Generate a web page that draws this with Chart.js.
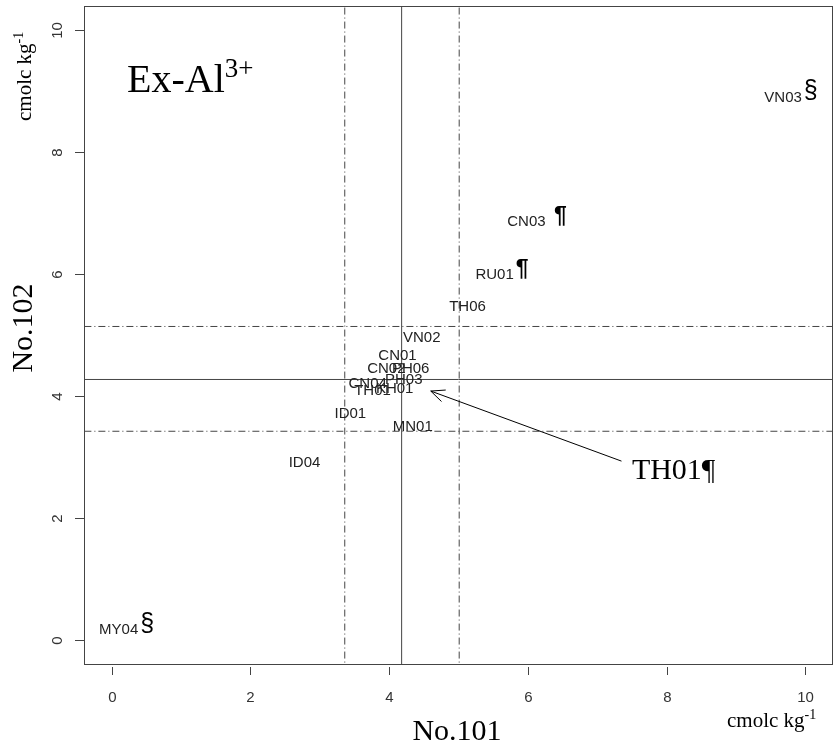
<!DOCTYPE html>
<html>
<head>
<meta charset="utf-8">
<script src="https://cdn.jsdelivr.net/npm/chart.js@4.4.0/dist/chart.umd.min.js"></script>
<style>
html, body { margin: 0; padding: 0; background: #fff; }
#wrap { width: 835px; height: 751px; }
</style>
</head>
<body>
<div id="wrap"><canvas id="chart"></canvas></div>
<script>
// site codes and their values on the two axes
const sites = ['VN03', 'CN03', 'RU01', 'TH06', 'VN02', 'CN01', 'CN02', 'PH06', 'PH03', 'CN04', 'TH01', 'KH01', 'ID01', 'MN01', 'ID04', 'MY04'];
const no101 = [9.68, 5.98, 5.52, 5.13, 4.47, 4.12, 3.96, 4.31, 4.21, 3.69, 3.76, 4.08, 3.44, 4.34, 2.78, 0.10];
const no102 = [8.90, 6.86, 5.99, 5.47, 4.96, 4.65, 4.45, 4.44, 4.26, 4.19, 4.08, 4.12, 3.70, 3.49, 2.90, 0.16];
const marks = ['§', ' ¶', '¶', '', '', '', '', '', '', '', '', '', '', '', '', '§'];

const xTicks = [0, 2, 4, 6, 8, 10];
const yTicks = [0, 2, 4, 6, 8, 10];

// reference lines: solid = centre, dotdash = limits
const xCentre = 4.18;
const xLimits = [3.36, 5.01];
const yCentre = 4.27;
const yLimits = [3.42, 5.14];

// arrow pointing at TH01
const arrowFrom = { x: 7.35, y: 2.93 };
const arrowTo = { x: 4.60, y: 4.08 };
const calloutText = 'TH01¶';
const calloutAt = { x: 7.50, y: 2.64 };

const lineColor = '#444';
const dotDash = [7, 3, 1, 3];

function vLine(v, dash) {
    return {
        type: 'line',
        data: [{ x: v, y: -1 }, { x: v, y: 11 }],
        borderColor: lineColor,
        borderWidth: 1,
        borderDash: dash,
        pointRadius: 0,
        fill: false
    };
}

function hLine(v, dash) {
    return {
        type: 'line',
        data: [{ x: -1, y: v }, { x: 11, y: v }],
        borderColor: lineColor,
        borderWidth: 1,
        borderDash: dash,
        pointRadius: 0,
        fill: false
    };
}

// draws text with a superscript part, left aligned at baseline
function supText(ctx, x, y, base, sup, size) {
    ctx.font = size + 'px "Liberation Serif", "Times New Roman", serif';
    ctx.textAlign = 'left';
    ctx.textBaseline = 'alphabetic';
    ctx.fillText(base, x, y);
    let w = ctx.measureText(base).width;
    ctx.font = Math.round(size * 0.68) + 'px "Liberation Serif", "Times New Roman", serif';
    ctx.fillText(sup, x + w, y - size * 0.38);
    return w + ctx.measureText(sup).width;
}

const drawExtras = {
    id: 'drawExtras',
    afterDraw(chart) {
        const ctx = chart.ctx;
        const area = chart.chartArea;
        const xs = chart.scales.x;
        const ys = chart.scales.y;
        ctx.save();

        // box
        ctx.strokeStyle = '#444';
        ctx.lineWidth = 1;
        ctx.strokeRect(Math.round(area.left) + 0.5, Math.round(area.top) + 0.5,
            Math.round(area.right - area.left) - 1, Math.round(area.bottom - area.top));

        // x ticks
        ctx.fillStyle = '#333';
        ctx.font = '15px "Liberation Sans Narrow", "Liberation Sans", Arial, sans-serif';
        ctx.textAlign = 'center';
        ctx.textBaseline = 'middle';
        xs.ticks.forEach(t => {
            const px = Math.round(xs.getPixelForValue(t.value)) + 0.5;
            ctx.beginPath();
            ctx.moveTo(px, area.bottom + 3);
            ctx.lineTo(px, area.bottom + 11);
            ctx.stroke();
            ctx.fillText(String(t.value), px, area.bottom + 34);
        });

        // y ticks (labels rotated like base R)
        ys.ticks.forEach(t => {
            const py = Math.round(ys.getPixelForValue(t.value)) + 0.5;
            ctx.beginPath();
            ctx.moveTo(area.left - 9, py);
            ctx.lineTo(area.left, py);
            ctx.stroke();
            ctx.save();
            ctx.translate(area.left - 26, py);
            ctx.rotate(-Math.PI / 2);
            ctx.fillText(String(t.value), 0, 0);
            ctx.restore();
        });

        // site labels
        ctx.fillStyle = '#222';
        sites.forEach((s, i) => {
            const px = xs.getPixelForValue(no101[i]);
            const py = ys.getPixelForValue(no102[i]);
            ctx.font = '15px "Liberation Sans", Arial, sans-serif';
            ctx.textAlign = 'center';
            ctx.textBaseline = 'middle';
            ctx.fillText(s, px, py);
            if (marks[i]) {
                const w = ctx.measureText(s).width;
                ctx.fillStyle = '#000';
                ctx.font = marks[i].trim() === '¶'
                    ? 'bold 23px "Liberation Sans", Arial, sans-serif'
                    : '25px "Liberation Sans", Arial, sans-serif';
                ctx.textAlign = 'left';
                ctx.textBaseline = 'alphabetic';
                ctx.fillText(marks[i], px + w / 2 + 2, py + 1);
                ctx.fillStyle = '#222';
            }
        });

        // arrow
        const ax0 = xs.getPixelForValue(arrowFrom.x), ay0 = ys.getPixelForValue(arrowFrom.y);
        const ax1 = xs.getPixelForValue(arrowTo.x), ay1 = ys.getPixelForValue(arrowTo.y);
        const ang = Math.atan2(ay1 - ay0, ax1 - ax0);
        ctx.strokeStyle = '#000';
        ctx.beginPath();
        ctx.moveTo(ax0, ay0);
        ctx.lineTo(ax1, ay1);
        ctx.moveTo(ax1 - 15 * Math.cos(ang - 0.42), ay1 - 15 * Math.sin(ang - 0.42));
        ctx.lineTo(ax1, ay1);
        ctx.lineTo(ax1 - 15 * Math.cos(ang + 0.42), ay1 - 15 * Math.sin(ang + 0.42));
        ctx.stroke();

        // callout text
        ctx.fillStyle = '#000';
        ctx.font = '30px "Liberation Serif", "Times New Roman", serif';
        ctx.textAlign = 'left';
        ctx.textBaseline = 'alphabetic';
        ctx.fillText(calloutText, xs.getPixelForValue(calloutAt.x), ys.getPixelForValue(calloutAt.y));

        // panel title
        supText(ctx, 127, 92, 'Ex-Al', '3+', 40);

        // axis titles
        ctx.font = '30px "Liberation Serif", "Times New Roman", serif';
        ctx.textAlign = 'center';
        ctx.textBaseline = 'alphabetic';
        ctx.fillText('No.101', 457, 740);
        ctx.save();
        ctx.translate(32, 328);
        ctx.rotate(-Math.PI / 2);
        ctx.fillText('No.102', 0, 0);
        ctx.restore();

        // units
        supText(ctx, 727, 727, 'cmolc kg', '-1', 21);
        ctx.save();
        ctx.translate(31, 121);
        ctx.rotate(-Math.PI / 2);
        supText(ctx, 0, 0, 'cmolc kg', '-1', 21);
        ctx.restore();

        ctx.restore();
    }
};

new Chart(document.getElementById('chart'), {
    type: 'scatter',
    data: {
        datasets: [
            {
                data: sites.map((s, i) => ({ x: no101[i], y: no102[i] })),
                pointRadius: 0,
                showLine: false
            },
            vLine(xCentre, []),
            vLine(xLimits[0], dotDash),
            vLine(xLimits[1], dotDash),
            hLine(yCentre, []),
            hLine(yLimits[0], dotDash),
            hLine(yLimits[1], dotDash)
        ]
    },
    options: {
        responsive: true,
        maintainAspectRatio: false,
        animation: false,
        devicePixelRatio: 1,
        layout: { padding: { top: 6, right: 2, left: 0, bottom: 0 } },
        plugins: { legend: { display: false }, tooltip: { enabled: false } },
        scales: {
            x: {
                type: 'linear',
                min: -0.4,
                max: 10.4,
                afterBuildTicks: s => { s.ticks = xTicks.map(v => ({ value: v })); },
                afterFit: s => { s.height = 87; },
                grid: { display: false },
                border: { display: false },
                ticks: { display: false }
            },
            y: {
                type: 'linear',
                min: -0.4,
                max: 10.4,
                afterBuildTicks: s => { s.ticks = yTicks.map(v => ({ value: v })); },
                afterFit: s => { s.width = 84; },
                grid: { display: false },
                border: { display: false },
                ticks: { display: false }
            }
        }
    },
    plugins: [drawExtras]
});
</script>
</body>
</html>
